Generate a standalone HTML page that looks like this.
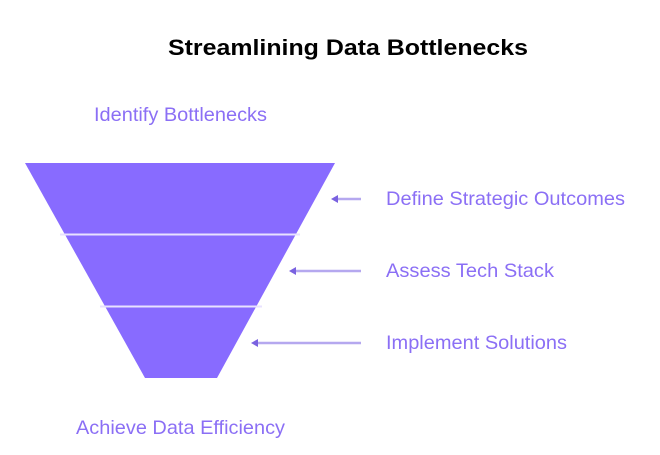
<!DOCTYPE html>
<html><head><style>
body{margin:0;width:660px;height:450px;background:#fff;overflow:hidden}
</style></head><body>
<svg width="660" height="450" xmlns="http://www.w3.org/2000/svg" font-family="Liberation Sans, Arial, sans-serif">
<text x="168" y="55" textLength="360" lengthAdjust="spacingAndGlyphs" font-size="22" font-weight="bold" fill="#000">Streamlining Data Bottlenecks</text>
<text x="94" y="121" textLength="173" lengthAdjust="spacingAndGlyphs" font-size="19.5" fill="#8b6ff5">Identify Bottlenecks</text>
<polygon points="25,163 335,163 217,378 145,378" fill="#886bff"/>
<line x1="60" y1="234.5" x2="300" y2="234.5" stroke="#e8e2ff" stroke-width="2"/>
<line x1="100" y1="306.5" x2="262" y2="306.5" stroke="#e8e2ff" stroke-width="2"/>
<g stroke="#b5a8ef" stroke-width="2.5">
<line x1="336" y1="199" x2="361" y2="199"/>
<line x1="294" y1="271" x2="361" y2="271"/>
<line x1="256" y1="343" x2="361" y2="343"/>
</g>
<g fill="#7a62e0">
<polygon points="331,199 338,195 338,203"/>
<polygon points="289,271 296,267 296,275"/>
<polygon points="251,343 258,339 258,347"/>
</g>
<g font-size="19.5" fill="#8b6ff5">
<text x="386" y="205" textLength="239" lengthAdjust="spacingAndGlyphs">Define Strategic Outcomes</text>
<text x="386" y="277" textLength="168" lengthAdjust="spacingAndGlyphs">Assess Tech Stack</text>
<text x="386" y="349" textLength="181" lengthAdjust="spacingAndGlyphs">Implement Solutions</text>
</g>
<text x="76" y="434" textLength="209" lengthAdjust="spacingAndGlyphs" font-size="19.5" fill="#8b6ff5">Achieve Data Efficiency</text>
</svg>
</body></html>
